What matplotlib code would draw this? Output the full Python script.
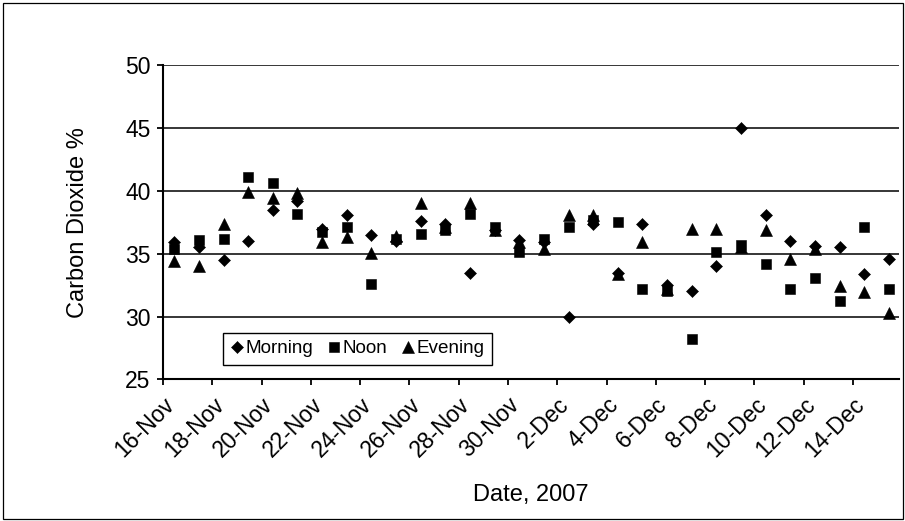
import matplotlib
matplotlib.use("Agg")
import matplotlib.pyplot as plt
import matplotlib.dates as mdates
from matplotlib.patches import Rectangle
from matplotlib.ticker import FixedLocator, FixedFormatter
import datetime as dt

plt.rcParams['font.family'] = ['Liberation Sans', 'DejaVu Sans']

# ---------------- data ----------------
dates = ["2007-11-16", "2007-11-17", "2007-11-18", "2007-11-19", "2007-11-20",
         "2007-11-21", "2007-11-22", "2007-11-23", "2007-11-24", "2007-11-25",
         "2007-11-26", "2007-11-27", "2007-11-28", "2007-11-29", "2007-11-30",
         "2007-12-01", "2007-12-02", "2007-12-03", "2007-12-04", "2007-12-05",
         "2007-12-06", "2007-12-07", "2007-12-08", "2007-12-09", "2007-12-10",
         "2007-12-11", "2007-12-12", "2007-12-13", "2007-12-14", "2007-12-15"]
sample_time = "11:00"

morning = [35.9, 35.5, 34.5, 36.0, 38.5, 39.2, 37.0, 38.1, 36.5, 36.0,
           37.6, 37.4, 33.45, 36.9, 36.1, 35.9, 30.0, 37.4, 33.5, 37.4,
           32.5, 32.0, 34.0, 45.0, 38.1, 36.0, 35.6, 35.5, 33.4, 34.6]
noon = [35.4, 36.1, 36.15, 41.1, 40.6, 38.2, 36.7, 37.1, 32.6, 36.2,
        36.6, 36.9, 38.2, 37.1, 35.15, 36.15, 37.15, 37.7, 37.55, 32.15,
        32.0, 28.2, 35.15, 35.7, 34.2, 32.2, 33.1, 31.2, 37.1, 32.2]
evening = [34.45, 34.05, 37.4, 39.95, 39.4, 39.8, 35.9, 36.35, 35.05, 36.4,
           39.0, 37.1, 39.0, 36.9, 35.9, 35.35, 38.1, 38.1, 33.4, 35.95,
           32.2, 36.95, 36.95, 35.5, 36.9, 34.55, 35.4, 32.4, 31.95, 30.3]

tick_dates = ["2007-11-16", "2007-11-18", "2007-11-20", "2007-11-22", "2007-11-24",
              "2007-11-26", "2007-11-28", "2007-11-30", "2007-12-02", "2007-12-04",
              "2007-12-06", "2007-12-08", "2007-12-10", "2007-12-12", "2007-12-14"]
tick_labels = ["16-Nov", "18-Nov", "20-Nov", "22-Nov", "24-Nov", "26-Nov", "28-Nov",
               "30-Nov", "2-Dec", "4-Dec", "6-Dec", "8-Dec", "10-Dec", "12-Dec", "14-Dec"]
y_ticks = [25, 30, 35, 40, 45, 50]

# ---------------- figure ----------------
W, H = 905, 521
fig = plt.figure(figsize=(W / 100, H / 100), dpi=100)
fig.patch.set_facecolor("white")

left, right, top, bottom = 163, 899, 65.3, 379.3
ax = fig.add_axes([left / W, 1 - bottom / H, (right - left) / W, (bottom - top) / H])

x = [mdates.date2num(dt.datetime.fromisoformat(d + " " + sample_time)) for d in dates]
tx = [mdates.date2num(dt.datetime.fromisoformat(d)) for d in tick_dates]

ms_kw = dict(linestyle="none", color="black", markeredgecolor="black", markeredgewidth=0.4)
ax.plot(x, morning, marker="D", markersize=6.6, label="Morning", zorder=3, **ms_kw)
ax.plot(x, noon, marker="s", markersize=7.8, label="Noon", zorder=3, **ms_kw)
ax.plot(x, evening, marker="^", markersize=9.2, label="Evening", zorder=3, **ms_kw)

x0 = tx[0]
ax.set_xlim(x0, x0 + (right - left) / 24.64)
ax.set_ylim(25, 50)

ax.xaxis.set_major_locator(FixedLocator(tx))
ax.xaxis.set_major_formatter(FixedFormatter(tick_labels))
ax.set_yticks(y_ticks)

ax.tick_params(axis="both", direction="out", length=4, width=1.3, colors="black",
               labelsize=16.5)
ax.tick_params(axis="x", pad=6)
ax.tick_params(axis="y", pad=5)
for lbl in ax.get_xticklabels():
    lbl.set_rotation(45)
    lbl.set_ha("right")
    lbl.set_va("top")
    lbl.set_rotation_mode("anchor")

ax.yaxis.grid(True, color="black", linewidth=1.1)
ax.set_axisbelow(True)
for s in ["top", "right"]:
    ax.spines[s].set_visible(False)
for s in ["left", "bottom"]:
    ax.spines[s].set_linewidth(1.5)
    ax.spines[s].set_zorder(2.5)

ax.set_ylabel("Carbon Dioxide %", fontsize=17)
ax.yaxis.set_label_coords((88.5 - left) / (right - left), 0.5)
ax.set_xlabel("Date, 2007", fontsize=17, va="top")
ax.xaxis.set_label_coords(0.5, (bottom - 483.5) / (bottom - top))

leg = ax.legend(loc="lower left", bbox_to_anchor=(223 / W, 1 - 365 / H),
                bbox_transform=fig.transFigure, ncol=3, fontsize=13.6,
                frameon=True, fancybox=False, framealpha=1, edgecolor="black",
                handlelength=0.7, handletextpad=0.1, columnspacing=0.75,
                borderpad=0.4, borderaxespad=0)
leg.get_frame().set_linewidth(1.0)

fig.patches.append(Rectangle((2.5 / W, 2.5 / H), (W - 5) / W, (H - 5) / H,
                             transform=fig.transFigure, fill=False,
                             edgecolor="black", linewidth=0.9))

fig.savefig("out.png", dpi=100)
